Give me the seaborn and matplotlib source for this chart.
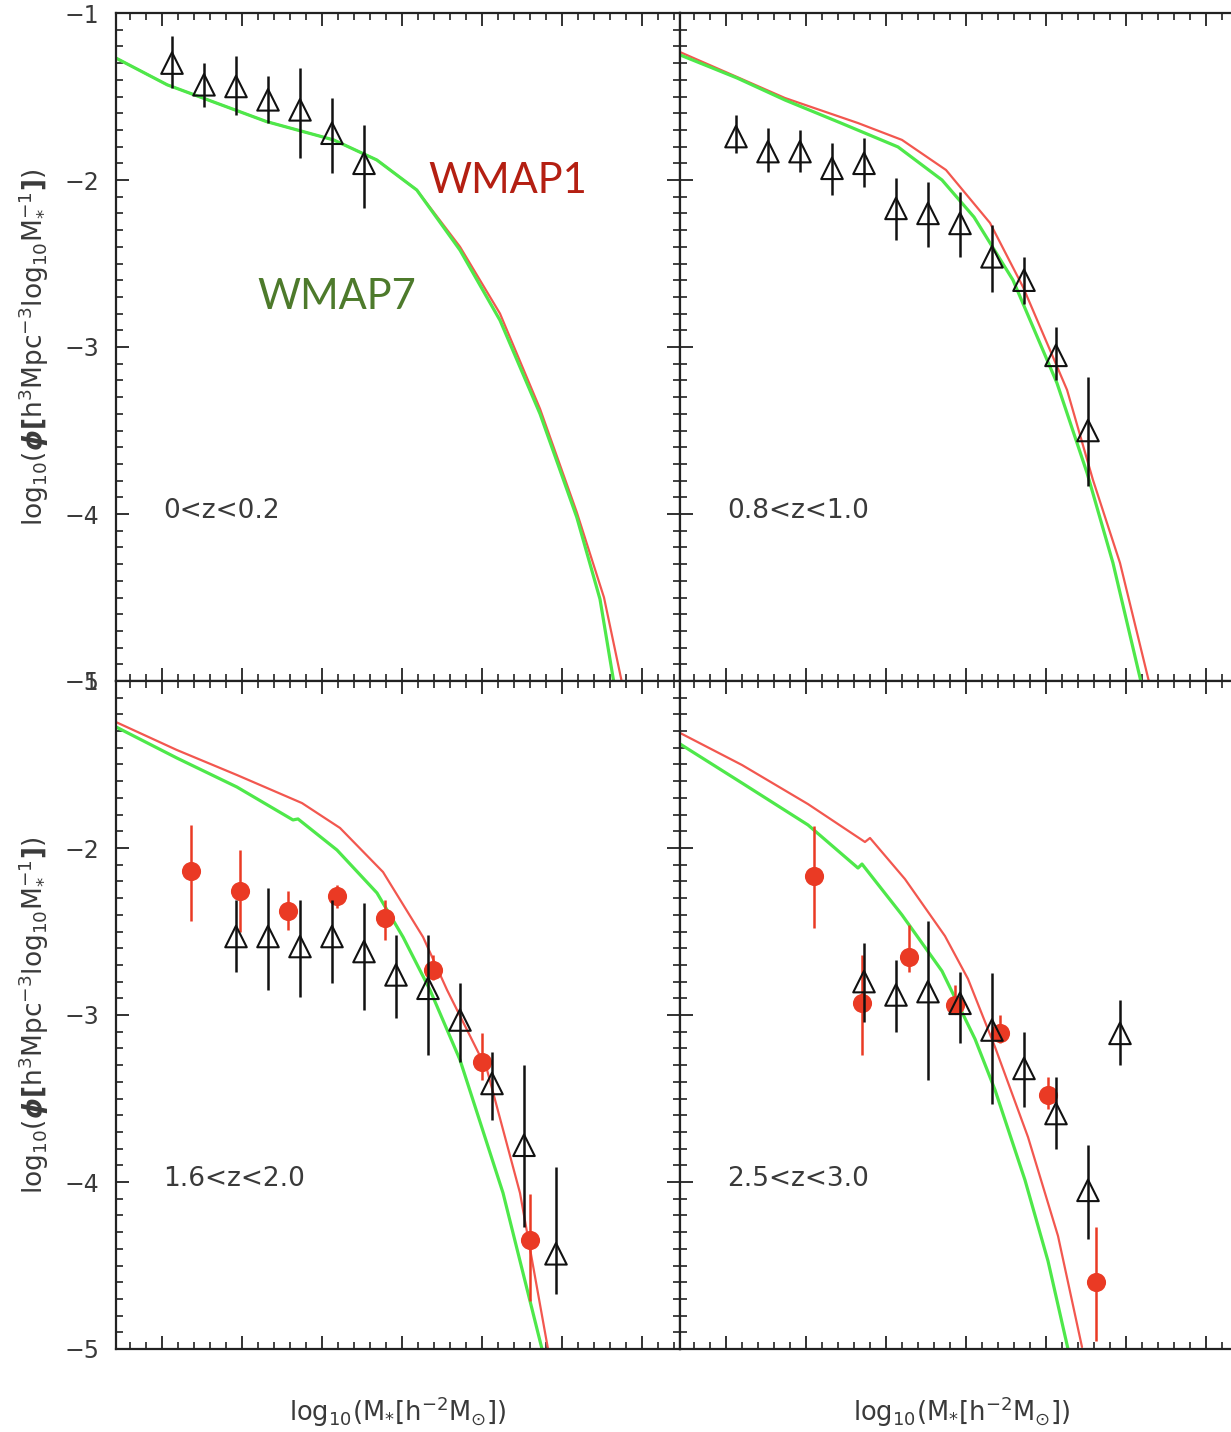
import numpy as np
import matplotlib
matplotlib.use("Agg")
import matplotlib.pyplot as plt
from matplotlib.ticker import MultipleLocator
import seaborn as sns

# ---------------- data ----------------
# panel 1 : 0<z<0.2
p1_tri_x = [8.6, 8.8, 9.0, 9.2, 9.4, 9.6, 9.8]
p1_tri_y = [-1.30, -1.43, -1.44, -1.52, -1.58, -1.72, -1.90]
p1_tri_lo = [-1.45, -1.56, -1.61, -1.66, -1.87, -1.96, -2.17]
p1_tri_hi = [-1.14, -1.30, -1.26, -1.38, -1.33, -1.51, -1.67]
p1_w1_x = [8.25, 8.57, 9.19, 9.61, 9.88, 10.13, 10.40, 10.65, 10.90, 11.13, 11.30, 11.41]
p1_w1_y = [-1.27, -1.43, -1.65, -1.76, -1.88, -2.06, -2.40, -2.80, -3.37, -3.99, -4.50, -5.0]
p1_w7_x = [8.25, 8.57, 9.19, 9.61, 9.88, 10.13, 10.40, 10.65, 10.90, 11.13, 11.275, 11.36]
p1_w7_y = [-1.27, -1.43, -1.65, -1.76, -1.88, -2.06, -2.42, -2.84, -3.40, -4.02, -4.51, -5.0]

# panel 2 : 0.8<z<1.0
p2_tri_x = [8.6, 8.8, 9.0, 9.2, 9.4, 9.6, 9.8, 10.0, 10.2, 10.4, 10.6, 10.8]
p2_tri_y = [-1.74, -1.83, -1.83, -1.93, -1.90, -2.17, -2.20, -2.26, -2.46, -2.60, -3.05, -3.50]
p2_tri_lo = [-1.84, -1.95, -1.95, -2.09, -2.04, -2.36, -2.40, -2.46, -2.67, -2.74, -3.20, -3.83]
p2_tri_hi = [-1.61, -1.69, -1.70, -1.78, -1.75, -1.99, -2.01, -2.07, -2.27, -2.46, -2.88, -3.18]
p2_w1_x = [8.25, 8.606, 8.906, 9.3625, 9.6375, 9.9125, 10.1875, 10.394, 10.669, 10.831, 11.0, 11.18]
p2_w1_y = [-1.234, -1.383, -1.509, -1.659, -1.760, -1.940, -2.257, -2.641, -3.257, -3.796, -4.293, -5.0]
p2_w7_x = [8.25, 8.606, 8.906, 9.256, 9.6125, 9.8875, 10.0875, 10.331, 10.606, 10.794, 10.956, 11.13]
p2_w7_y = [-1.251, -1.389, -1.521, -1.659, -1.802, -2.0, -2.222, -2.599, -3.216, -3.754, -4.293, -5.0]

# panel 3 : 1.6<z<2.0
p3_tri_x = [9.0, 9.2, 9.4, 9.6, 9.8, 10.0, 10.2, 10.4, 10.6, 10.8, 11.0]
p3_tri_y = [-2.53, -2.53, -2.59, -2.53, -2.62, -2.76, -2.84, -3.03, -3.41, -3.78, -4.43]
p3_tri_lo = [-2.74, -2.85, -2.89, -2.81, -2.97, -3.02, -3.24, -3.28, -3.63, -4.27, -4.67]
p3_tri_hi = [-2.31, -2.24, -2.31, -2.31, -2.33, -2.52, -2.52, -2.81, -3.22, -3.30, -3.91]
p3_red_x = [8.72, 9.025, 9.325, 9.63, 9.93, 10.23, 10.54, 10.84]
p3_red_y = [-2.14, -2.26, -2.38, -2.29, -2.42, -2.73, -3.28, -4.35]
p3_red_lo = [-2.44, -2.50, -2.49, -2.36, -2.55, -2.79, -3.39, -4.71]
p3_red_hi = [-1.86, -2.01, -2.26, -2.22, -2.31, -2.64, -3.11, -4.07]
p3_w1_x = [8.25, 8.63, 9.006, 9.4125, 9.65, 9.919, 10.169, 10.319, 10.569, 10.775, 10.95]
p3_w1_y = [-1.246, -1.413, -1.563, -1.731, -1.880, -2.144, -2.533, -2.850, -3.329, -4.066, -5.0]
p3_w7_x = [8.25, 8.63, 9.006, 9.356, 9.3875, 9.631, 9.881, 10.044, 10.2125, 10.4, 10.669, 10.9125]
p3_w7_y = [-1.275, -1.461, -1.635, -1.832, -1.826, -2.012, -2.269, -2.533, -2.850, -3.269, -4.066, -5.0]

# panel 4 : 2.5<z<3.0
p4_tri_x = [9.4, 9.6, 9.8, 10.0, 10.2, 10.4, 10.6, 10.8, 11.0]
p4_tri_y = [-2.80, -2.88, -2.86, -2.93, -3.09, -3.32, -3.59, -4.05, -3.11]
p4_tri_lo = [-3.04, -3.10, -3.39, -3.17, -3.53, -3.55, -3.80, -4.34, -3.30]
p4_tri_hi = [-2.57, -2.67, -2.44, -2.74, -2.75, -3.10, -3.37, -3.78, -2.91]
p4_red_x = [9.09, 9.39, 9.68, 9.97, 10.25, 10.55, 10.85]
p4_red_y = [-2.17, -2.93, -2.65, -2.94, -3.11, -3.48, -4.60]
p4_red_lo = [-2.48, -3.24, -2.74, -2.99, -3.17, -3.56, -4.95]
p4_red_hi = [-1.87, -2.64, -2.46, -2.82, -3.00, -3.37, -4.27]
p4_w1_x = [8.25, 8.6375, 9.05, 9.406, 9.4375, 9.656, 9.906, 10.05, 10.219, 10.425, 10.6125, 10.7625]
p4_w1_y = [-1.311, -1.503, -1.737, -1.964, -1.940, -2.186, -2.527, -2.784, -3.192, -3.731, -4.323, -4.988]
p4_w7_x = [8.25, 8.6375, 9.05, 9.3625, 9.3875, 9.6375, 9.8875, 10.094, 10.219, 10.406, 10.55, 10.675]
p4_w7_y = [-1.377, -1.611, -1.862, -2.120, -2.096, -2.401, -2.737, -3.144, -3.449, -3.988, -4.473, -5.0]

panel_labels = ["0<z<0.2", "0.8<z<1.0", "1.6<z<2.0", "2.5<z<3.0"]

# ---------------- style ----------------
sns.set_style("ticks")
plt.rcParams["font.family"] = ["DejaVu Sans"]
plt.rcParams["mathtext.fontset"] = "dejavusans"

RED_LINE = "#f2574f"
GREEN_LINE = "#4ee84a"
RED_PT = "#ea3a24"
TXT = "#3a3a3a"

W, H = 1231, 1432
fig = plt.figure(figsize=(W / 100, H / 100), dpi=100)

def px_axes(x0, y0, w, h):
    return fig.add_axes([x0 / W, 1 - (y0 + h) / H, w / W, h / H])

pw, ph = 564, 668
axs = [px_axes(116, 13, pw, ph), px_axes(680, 13, pw, ph),
       px_axes(116, 681, pw, ph), px_axes(680, 681, pw, ph)]

panels = [
    dict(w1=(p1_w1_x, p1_w1_y), w7=(p1_w7_x, p1_w7_y),
         tri=(p1_tri_x, p1_tri_y, p1_tri_lo, p1_tri_hi), red=None),
    dict(w1=(p2_w1_x, p2_w1_y), w7=(p2_w7_x, p2_w7_y),
         tri=(p2_tri_x, p2_tri_y, p2_tri_lo, p2_tri_hi), red=None),
    dict(w1=(p3_w1_x, p3_w1_y), w7=(p3_w7_x, p3_w7_y),
         tri=(p3_tri_x, p3_tri_y, p3_tri_lo, p3_tri_hi),
         red=(p3_red_x, p3_red_y, p3_red_lo, p3_red_hi)),
    dict(w1=(p4_w1_x, p4_w1_y), w7=(p4_w7_x, p4_w7_y),
         tri=(p4_tri_x, p4_tri_y, p4_tri_lo, p4_tri_hi),
         red=(p4_red_x, p4_red_y, p4_red_lo, p4_red_hi)),
]

ylab = r"$\mathrm{log_{10}(}\boldsymbol{\phi}\mathbf{[}\mathrm{h^{3}Mpc^{-3}log_{10}M_{*}^{-1}}\mathbf{]}\mathrm{)}$"
xlab = r"$\mathrm{log_{10}(M_{*}[h^{-2}M_{\odot}])}$"

for i, (ax, p) in enumerate(zip(axs, panels)):
    # model curves
    sns.lineplot(x=p["w1"][0], y=p["w1"][1], ax=ax, color=RED_LINE, lw=1.6,
                 sort=False, estimator=None, zorder=2)
    sns.lineplot(x=p["w7"][0], y=p["w7"][1], ax=ax, color=GREEN_LINE, lw=2.3,
                 sort=False, estimator=None, zorder=2)
    # red points
    if p["red"] is not None:
        rx, ry, rlo, rhi = (np.array(a) for a in p["red"])
        ax.errorbar(rx, ry, yerr=[ry - rlo, rhi - ry], fmt="none",
                    ecolor=RED_PT, elinewidth=1.8, capsize=0, zorder=3)
        sns.scatterplot(x=rx, y=ry, ax=ax, color=RED_PT, s=190,
                        edgecolor=RED_PT, linewidth=0, zorder=4)
    # triangles
    tx, ty, tlo, thi = (np.array(a) for a in p["tri"])
    ax.errorbar(tx, ty, yerr=[ty - tlo, thi - ty], fmt="none",
                ecolor="#111111", elinewidth=1.8, capsize=0, zorder=5)
    sns.scatterplot(x=tx, y=ty, ax=ax, marker="^", s=240, facecolor="none",
                    edgecolor="#111111", linewidth=1.5, zorder=6)

    ax.set_xlim(8.25, 11.775)
    ax.set_ylim(-5, -1)
    ax.xaxis.set_major_locator(MultipleLocator(0.5, offset=0.0375))
    ax.xaxis.set_minor_locator(MultipleLocator(0.1, offset=0.0375))
    ax.yaxis.set_major_locator(MultipleLocator(1))
    ax.yaxis.set_minor_locator(MultipleLocator(0.1))
    ax.tick_params(which="both", direction="in", top=True, right=True,
                   bottom=True, left=True, color="#222222")
    ax.tick_params(which="major", length=9.5, width=1.3)
    ax.tick_params(which="minor", length=5, width=1.2)
    ax.tick_params(axis="x", labelbottom=False)
    ax.tick_params(axis="y", labelsize=17, labelcolor=TXT, pad=12)
    if i % 2 == 1:
        ax.tick_params(axis="y", labelleft=False)
        ax.set_ylabel("")
    else:
        ax.set_ylabel(ylab, fontsize=19, color=TXT)
        ax.yaxis.set_label_coords(-0.118, 0.5)
    for s in ax.spines.values():
        s.set_linewidth(1.6)
        s.set_color("#222222")
    ax.set_xlabel("")
    ax.text(0.083, 0.255, panel_labels[i],
            transform=ax.transAxes, fontsize=19, color=TXT,
            ha="left", va="center")

for ax in axs[2:]:
    ax.set_xlabel(xlab, fontsize=18.5, color=TXT, va="top")
    ax.xaxis.set_label_coords(0.5, -0.068)

# WMAP annotations
fig.text(508 / W, 1 - 181 / H, "WMAP1", fontsize=30, color="#b41f12",
         family=["Lato", "DejaVu Sans"], ha="center", va="center")
fig.text(337 / W, 1 - 297 / H, "WMAP7", fontsize=30, color="#4d7a2b",
         family=["Lato", "DejaVu Sans"], ha="center", va="center")

fig.savefig("out.png", dpi=100)
